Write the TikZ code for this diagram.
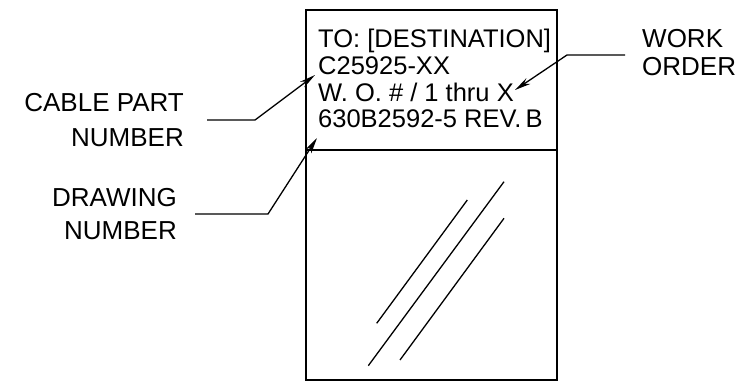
\documentclass[tikz,border=0pt]{standalone}
\usepackage{fontspec}
\setmainfont{Liberation Sans}
\usetikzlibrary{arrows.meta}
\begin{document}
\begin{tikzpicture}[x=1pt,y=-1pt,
  boxline/.style={line width=1.7pt},
  leader/.style={line width=1.3pt,-{Stealth[length=16pt,width=7pt]}},
  boxtext/.style={anchor=base west,inner sep=0pt,font=\fontsize{25.5}{27}\selectfont},
  lbl/.style={inner sep=0pt,font=\fontsize{26}{35}\selectfont}]
\useasboundingbox (0,0) rectangle (752,382);
% box
\coordinate (bTL) at (305.7,10);
\coordinate (bBR) at (556.7,380);
\coordinate (dL) at (305.7,150);
\coordinate (dR) at (556.7,150);
\draw[boxline] (bTL) rectangle (bBR);
\draw[boxline] (dL) -- (dR);
% box texts
\node[boxtext] (t1) at (318,48) {TO: [DESTINATION]};
\node[boxtext] (t2) at (318,75) {C25925-XX};
\node[boxtext] (t3) at (318,102) {W. O. \# / 1 thru X};
\node[boxtext] (t4) at (318,128) {630B2592-5 REV.\,B};
% labels
\node[lbl,align=right,anchor=base east] (cpn) at (184,147) {CABLE PART\\NUMBER};
\node[lbl,align=right,anchor=base east,font=\fontsize{26}{33}\selectfont] (dwn) at (177,240) {DRAWING\\NUMBER};
\node[lbl,align=left,anchor=base west,font=\fontsize{26}{28}\selectfont] (wo) at (642,76) {WORK\\ORDER};
% leaders
\coordinate (cpA) at (207,120);
\coordinate (cpB) at (255,120);
\coordinate (cpT) at (315,75);
\draw[leader] (cpA) -- (cpB) -- (cpT);
\coordinate (dwA) at (195,214);
\coordinate (dwB) at (268,214);
\coordinate (dwT) at (317,138);
\draw[leader] (dwA) -- (dwB) -- (dwT);
\coordinate (woA) at (625,55);
\coordinate (woB) at (567,55);
\coordinate (woT) at (515,90);
\draw[leader] (woA) -- (woB) -- (woT);
% glare lines
\coordinate (g1a) at (376.7,323.3); \coordinate (g1b) at (467.3,200);
\coordinate (g2a) at (368.3,365.7); \coordinate (g2b) at (504,181.7);
\coordinate (g3a) at (400,360);     \coordinate (g3b) at (504,218.3);
\draw[line width=1.3pt] (g1a) -- (g1b);
\draw[line width=1.3pt] (g2a) -- (g2b);
\draw[line width=1.3pt] (g3a) -- (g3b);
\end{tikzpicture}
\end{document}
